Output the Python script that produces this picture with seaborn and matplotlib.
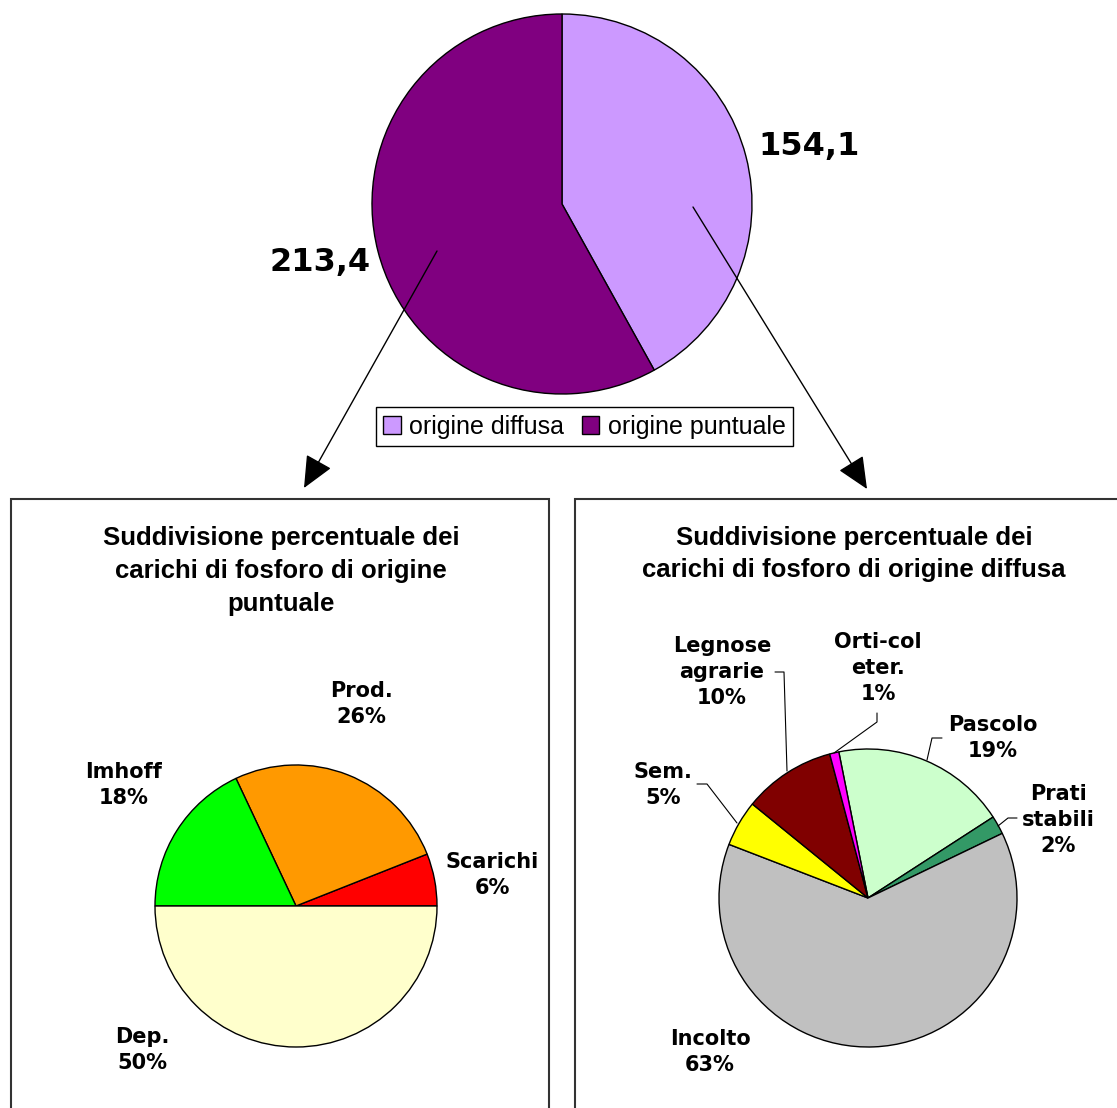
import numpy as np
import matplotlib
matplotlib.use("Agg")
import matplotlib.pyplot as plt
from matplotlib.patches import Rectangle
import seaborn as sns

# top pie: phosphorus loads by origin
origine_labels = ["origine diffusa", "origine puntuale"]
origine_valori = [154.1, 213.4]
origine_testi = ["154,1", "213,4"]
origine_colori = ["#CC99FF", "#800080"]

# bottom left: point sources (%)
puntuale_labels = ["Scarichi", "Prod.", "Imhoff", "Dep."]
puntuale_valori = [6, 26, 18, 50]
puntuale_colori = ["#FF0000", "#FF9900", "#00FF00", "#FFFFCC"]

# bottom right: diffuse sources (%)
diffusa_labels = ["Pascolo", "Prati\nstabili", "Incolto", "Sem.", "Legnose\nagrarie", "Orti-col\neter."]
diffusa_valori = [19, 2, 63, 5, 10, 1]
diffusa_colori = ["#CCFFCC", "#339966", "#C0C0C0", "#FFFF00", "#800000", "#FF00FF"]

sns.set_theme(style="white")
plt.rcParams["font.family"] = ["DejaVu Sans"]
plt.rcParams["text.color"] = "black"

W, H = 1117, 1108
fig = plt.figure(figsize=(W / 100, H / 100), dpi=100)
ax = fig.add_axes([0, 0, 1, 1])


def P(x, y):
    # pixel position (y from top) -> data coords
    return (x, H - y)


wprops = dict(edgecolor="black", linewidth=1.0)
lab_font = dict(fontsize=15, fontweight="bold", family="DejaVu Sans", color="black",
                ha="center", va="center", linespacing=1.4)
tit_font = dict(fontsize=18.5, fontweight="bold", family="Liberation Sans", color="black",
                ha="center", va="center", linespacing=1.45)

# ---- top pie
wedges, _ = ax.pie(origine_valori, colors=origine_colori, startangle=90,
                   counterclock=False, center=P(562, 204), radius=190,
                   frame=True, wedgeprops=wprops)
ax.text(*P(809, 146), origine_testi[0], fontsize=23, fontweight="bold",
        color="black", ha="center", va="center")
ax.text(*P(320, 263), origine_testi[1], fontsize=23, fontweight="bold",
        color="black", ha="center", va="center")

leg = fig.legend(wedges, origine_labels, loc="center",
                 bbox_to_anchor=(584.5 / W, 1 - 427 / H), ncol=2, frameon=True,
                 fancybox=False, edgecolor="black", framealpha=1,
                 prop=dict(family="Liberation Sans", size=18),
                 handlelength=0.7, handleheight=0.7, handletextpad=0.35,
                 columnspacing=0.7, borderpad=0.3)
for t in leg.get_texts():
    t.set_color("black")

# arrows toward the detail charts
arrow = dict(arrowstyle="-|>,head_length=1.0,head_width=0.45", color="black",
             lw=1.0, mutation_scale=20, shrinkA=0, shrinkB=0)
ax.annotate("", xy=P(304, 488), xytext=P(437, 251), arrowprops=arrow)
ax.annotate("", xy=P(867, 489), xytext=P(693, 207), arrowprops=arrow)

# ---- panel frames
for x0, x1 in [(11, 549), (575, 1125)]:
    ax.add_patch(Rectangle(P(x0, 1120), x1 - x0, 1120 - 499, fill=False,
                           edgecolor="#333333", linewidth=1.5))

ax.text(*P(281, 571), "Suddivisione percentuale dei\ncarichi di fosforo di origine\npuntuale",
        **tit_font)
ax.text(*P(854, 554), "Suddivisione percentuale dei\ncarichi di fosforo di origine diffusa",
        **tit_font)

# ---- bottom left pie
ax.pie(puntuale_valori, colors=puntuale_colori, startangle=0, counterclock=True,
       center=P(296, 906), radius=141, frame=True, wedgeprops=wprops)
pos_sx = [(492, 875), (361, 704), (124, 785), (142, 1050)]
for lab, v, (x, y) in zip(puntuale_labels, puntuale_valori, pos_sx):
    ax.text(*P(x, y), f"{lab}\n{v}%", **lab_font)

# ---- bottom right pie
ax.pie(diffusa_valori, colors=diffusa_colori, startangle=101.3, counterclock=False,
       center=P(868, 898), radius=149, frame=True, wedgeprops=wprops)
pos_dx = [(993, 738), (1058, 820), (710, 1052), (663, 785), (722, 672), (878, 668)]
for lab, v, (x, y) in zip(diffusa_labels, diffusa_valori, pos_dx):
    ax.text(*P(x, y), f"{lab}\n{v}%", **lab_font)

leaders = [
    [(942, 738), (932, 738), (927, 760)],
    [(1017, 818), (1008, 818), (998, 826)],
    [(697, 784), (707, 784), (737, 823)],
    [(775, 672), (784, 672), (787, 771)],
    [(877, 713), (877, 722), (834, 753)],
]
for pts in leaders:
    xs, ys = zip(*[P(x, y) for x, y in pts])
    ax.plot(xs, ys, color="black", lw=0.8)

ax.set_xlim(0, W)
ax.set_ylim(0, H)
ax.axis("off")

fig.savefig("out.png", dpi=100)
